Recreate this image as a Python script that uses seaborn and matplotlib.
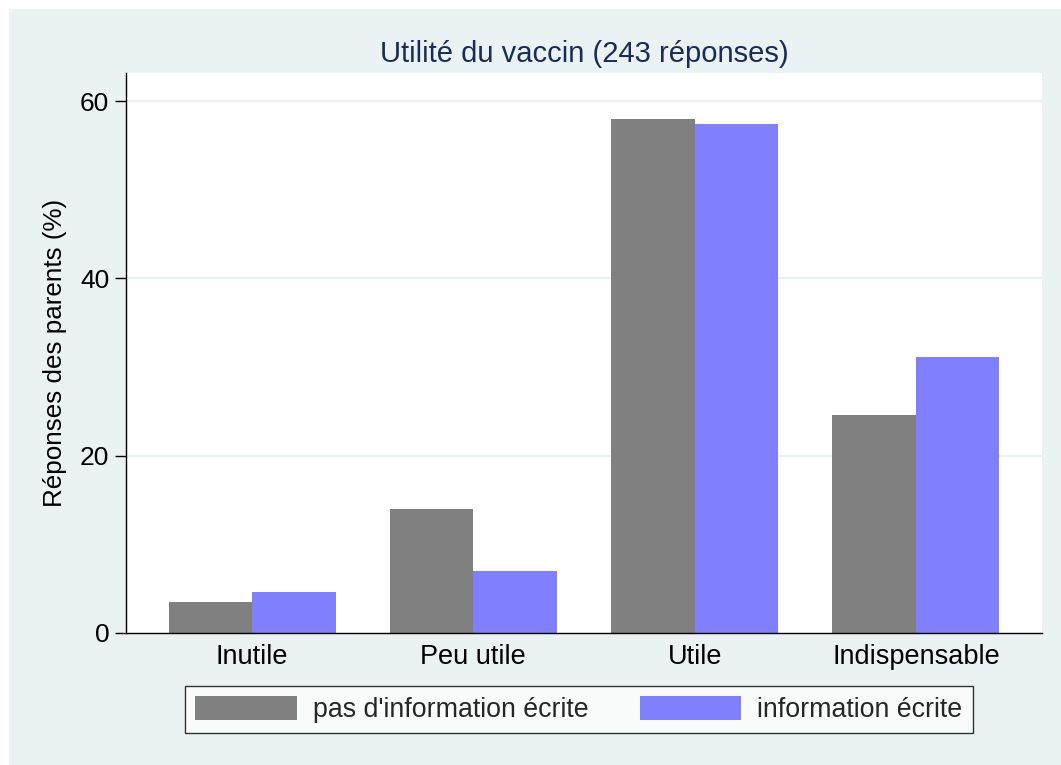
import matplotlib
matplotlib.use("Agg")
import matplotlib.pyplot as plt
import seaborn as sns
import pandas as pd
from matplotlib.patches import Rectangle

categories = ["Inutile", "Peu utile", "Utile", "Indispensable"]
series_names = ["pas d'information écrite", "information écrite"]
no_info = [3.5, 14.0, 58.0, 24.6]
info = [4.6, 7.0, 57.4, 31.1]
yticks = [0, 20, 40, 60]

title = "Utilité du vaccin (243 réponses)"
ylabel = "Réponses des parents (%)"

df = pd.DataFrame({
    "cat": categories * 2,
    "serie": [series_names[0]] * 4 + [series_names[1]] * 4,
    "val": no_info + info,
})

sns.set_style("white")
plt.rcParams['font.family'] = ['Liberation Sans', 'DejaVu Sans']

bg = "#EAF2F3"
fig = plt.figure(figsize=(10.61, 7.65), dpi=100)
fig.patch.set_facecolor("white")
fig.patches.append(Rectangle((9 / 1061, 0), 1 - 9 / 1061, 1 - 9 / 765,
                             transform=fig.transFigure, facecolor=bg,
                             edgecolor="none", zorder=-10))

ax = fig.add_axes([126 / 1061, 1 - 633 / 765, (1042 - 126) / 1061, (633 - 73) / 765])
ax.set_facecolor("white")

sns.barplot(data=df, x="cat", y="val", hue="serie", order=categories,
            hue_order=series_names, palette=["#808080", "#8080FF"],
            width=0.755, gap=0, dodge=True, saturation=1, ax=ax,
            edgecolor="none", linewidth=0, legend=False)

ax.set_xlim(-0.57, 3.57)
ax.set_ylim(0, 63.16)
ax.set_yticks(yticks)
ax.set_yticklabels([str(t) for t in yticks])
for t in yticks[1:]:
    ax.axhline(t, color=bg, lw=1.6, zorder=0)

for s in ["top", "right"]:
    ax.spines[s].set_visible(False)
for s in ["left", "bottom"]:
    ax.spines[s].set_color("black")
    ax.spines[s].set_linewidth(1.0)

ax.tick_params(axis="y", which="both", left=True, length=8, width=1,
               color="black", pad=4, labelsize=19, labelcolor="black")
ax.tick_params(axis="x", which="both", bottom=False, length=0, pad=8,
               labelsize=19.5, labelcolor="black")
ax.set_xlabel("")
ax.set_ylabel(ylabel, fontsize=18.7, labelpad=9, color="black")
ax.set_title(title, fontsize=21, color="#1A2B57", pad=8)

handles = [Rectangle((0, 0), 1, 1, facecolor="#808080", edgecolor="none"),
           Rectangle((0, 0), 1, 1, facecolor="#8080FF", edgecolor="none")]
leg = fig.legend(handles, series_names, loc="center", ncol=2,
                 bbox_to_anchor=(579 / 1061, 1 - 709.5 / 765),
                 fontsize=19.3, frameon=True, fancybox=False,
                 handlelength=3.77, handleheight=1.0, handletextpad=0.6,
                 columnspacing=1.94, borderpad=0.38, borderaxespad=0)
leg.get_frame().set_edgecolor("black")
leg.get_frame().set_linewidth(1.0)
leg.get_frame().set_facecolor("white")

fig.savefig("out.png", dpi=100)
